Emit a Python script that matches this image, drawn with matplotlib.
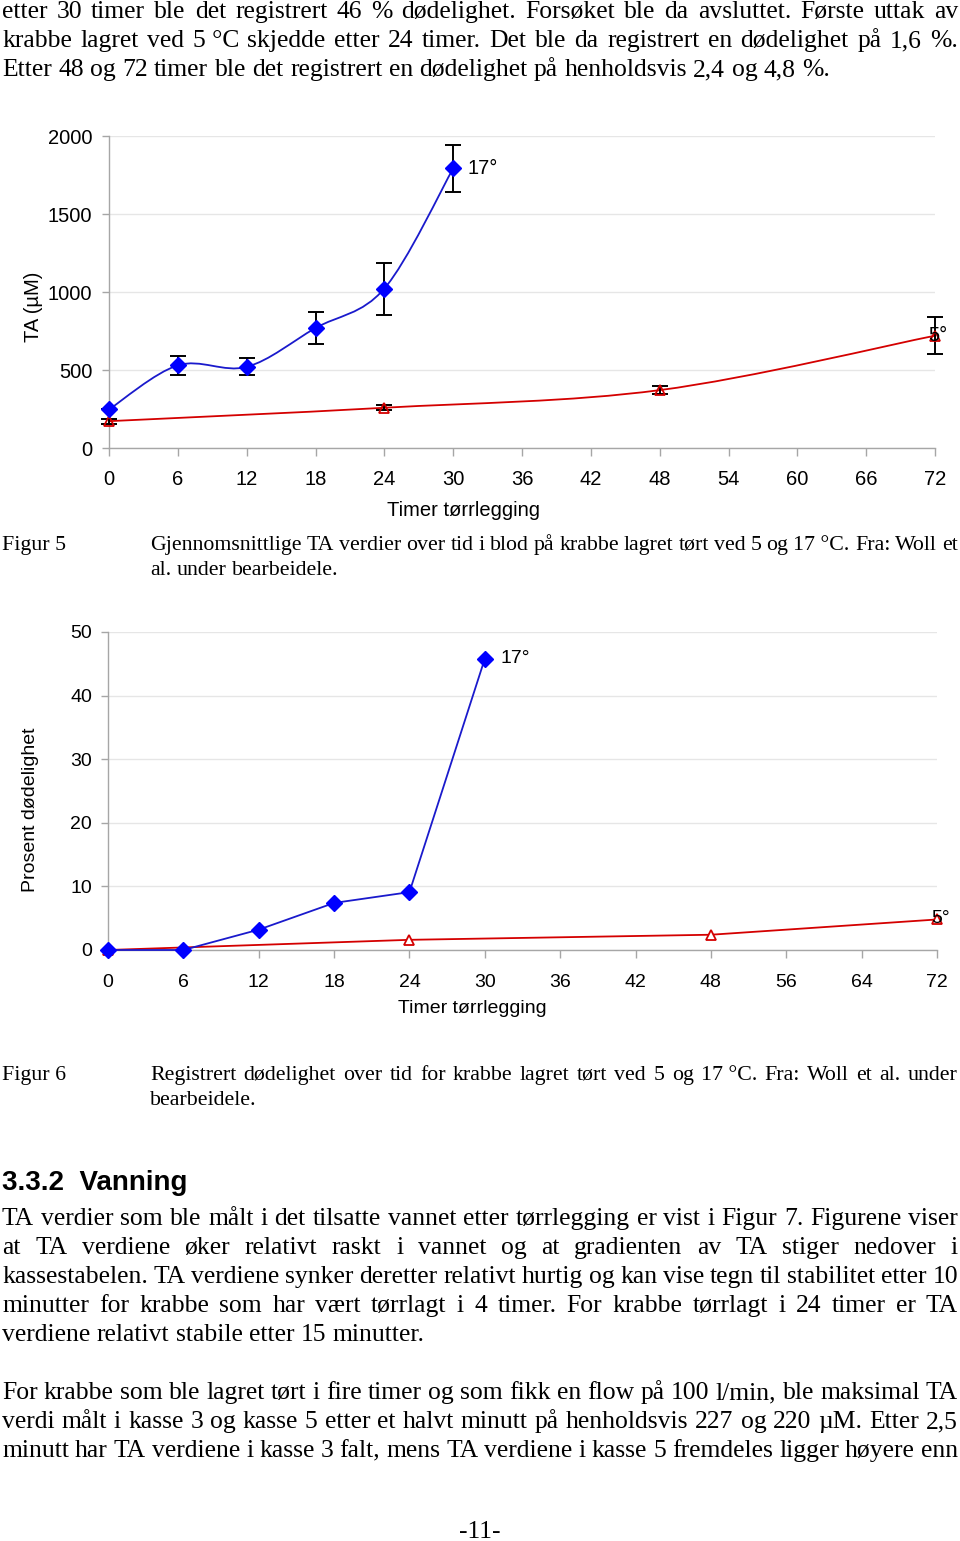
import numpy as np
import matplotlib
matplotlib.use("Agg")
import matplotlib.pyplot as plt
from matplotlib.path import Path
from matplotlib.patches import PathPatch

W, H = 960, 1541

# ---- data: figur 5 (TA i blod) ----
ta_hours_17 = [0, 6, 12, 18, 24, 30]
ta_vals_17 = [247, 530, 520, 769, 1022, 1792]
ta_err_17 = [0, 60, 55, 100, 167, 150]
ta_hours_5 = [0, 24, 48, 72]
ta_vals_5 = [172, 258, 371, 720]
ta_err_5 = [15, 15, 28, 118]
ta_xticks = list(range(0, 73, 6))
ta_yticks = [0, 500, 1000, 1500, 2000]

# ---- data: figur 6 (dødelighet) ----
mort_cats = [0, 6, 12, 18, 24, 30, 36, 42, 48, 56, 64, 72]
mort_hours_17 = [0, 6, 12, 18, 24, 30]
mort_vals_17 = [0, 0, 3.2, 7.4, 9.1, 45.8]
mort_hours_5 = [0, 24, 48, 72]
mort_vals_5 = [0, 1.6, 2.4, 4.8]
mort_yticks = [0, 10, 20, 30, 40, 50]

# ---- tekst ----
top_lines = [
    ("etter 30 timer ble det registrert 46 % dødelighet. Forsøket ble da avsluttet. Første uttak av", True),
    ("krabbe lagret ved 5\u00a0°C skjedde etter 24 timer. Det ble da registrert en dødelighet på 1,6 %.", True),
    ("Etter 48 og 72 timer ble det registrert en dødelighet på henholdsvis 2,4 og 4,8 %.", False),
]
cap5_lines = [
    ("Gjennomsnittlige TA verdier over tid i blod på krabbe lagret tørt ved 5 og 17\u00a0°C. Fra: Woll et", True),
    ("al. under bearbeidele.", False),
]
cap6_lines = [
    ("Registrert dødelighet over tid for krabbe lagret tørt ved 5 og 17\u00a0°C. Fra: Woll et al. under", True),
    ("bearbeidele.", False),
]
para1_lines = [
    ("TA verdier som ble målt i det tilsatte vannet etter tørrlegging er vist i Figur 7. Figurene viser", True),
    ("at TA verdiene øker relativt raskt i vannet og at gradienten av TA stiger nedover i", True),
    ("kassestabelen. TA verdiene synker deretter relativt hurtig og kan vise tegn til stabilitet etter 10", True),
    ("minutter for krabbe som har vært tørrlagt i 4 timer. For krabbe tørrlagt i 24 timer er TA", True),
    ("verdiene relativt stabile etter 15 minutter.", False),
]
para2_lines = [
    ("For krabbe som ble lagret tørt i fire timer og som fikk en flow på 100 l/min, ble maksimal TA", True),
    ("verdi målt i kasse 3 og kasse 5 etter et halvt minutt på henholdsvis 227 og 220 µM. Etter 2,5", True),
    ("minutt har TA verdiene i kasse 3 falt, mens TA verdiene i kasse 5 fremdeles ligger høyere enn", True),
]

SERIF = "Liberation Serif"
SANS = "Liberation Sans"
BLUE_M = "#0000ff"
BLUE_L = "#1a1acc"
RED = "#d40000"
GRID = "#e6e6e6"
AX = "#a6a6a6"

fig = plt.figure(figsize=(W / 100, H / 100), dpi=100)
fig.patch.set_facecolor("white")
renderer = fig.canvas.get_renderer()


def measure(s, size, family=SERIF):
    t = fig.text(0, 0, s, fontsize=size, family=family)
    w = t.get_window_extent(renderer).width
    t.remove()
    return w


def space_w(size):
    return measure("a a", size) - measure("aa", size)


def draw_line(text, x0, x1, y, size, justify):
    words = text.split(" ")
    widths = [measure(w, size) for w in words]
    if justify and len(words) > 1:
        gap = (x1 - x0 - sum(widths)) / (len(words) - 1)
    else:
        gap = space_w(size)
    x = x0
    for w, wd in zip(words, widths):
        fig.text(x / W, 1 - y / H, w, fontsize=size, family=SERIF,
                 ha="left", va="baseline")
        x += wd + gap


def fit_size(blocks, base, factor=0.9):
    # largest size where every justified line still gets a near-normal space
    sp = space_w(base)
    scale = 10.0
    for lines, x0, x1 in blocks:
        for s, j in lines:
            if not j:
                continue
            words = s.split(" ")
            nat = sum(measure(w, base) for w in words) + sp * (len(words) - 1) * factor
            scale = min(scale, (x1 - x0) / nat)
    return base * scale


body = fit_size([(top_lines, 2, 958), (para1_lines, 2, 958), (para2_lines, 2, 958)], 16)
cap = fit_size([(cap5_lines, 150, 958), (cap6_lines, 150, 958)], 14)


def draw_block(lines, x0, x1, y0, size, step):
    for i, (s, j) in enumerate(lines):
        draw_line(s, x0, x1, y0 + i * step, size, j)


draw_block(top_lines, 2, 958, 18, body, 29)
fig.text(2 / W, 1 - 550 / H, "Figur 5", fontsize=cap, family=SERIF, va="baseline")
draw_block(cap5_lines, 150, 958, 550, cap, 25)
fig.text(2 / W, 1 - 1080 / H, "Figur 6", fontsize=cap, family=SERIF, va="baseline")
draw_block(cap6_lines, 150, 958, 1080, cap, 25)
fig.text(2 / W, 1 - 1190 / H, "3.3.2  Vanning", fontsize=20, family=SANS,
         weight="bold", va="baseline")
draw_block(para1_lines, 2, 958, 1225, body, 29)
draw_block(para2_lines, 2, 958, 1399, body, 29)
fig.text(480 / W, 1 - 1538 / H, "-11-", fontsize=body, family=SERIF,
         ha="center", va="baseline")


def smooth_path(xs, ys):
    pts = np.column_stack([xs, ys]).astype(float)
    n = len(pts)
    verts = [pts[0]]
    codes = [Path.MOVETO]
    for i in range(n - 1):
        p0 = pts[max(i - 1, 0)]
        p1 = pts[i]
        p2 = pts[i + 1]
        p3 = pts[min(i + 2, n - 1)]
        verts += [p1 + (p2 - p0) / 6, p2 - (p3 - p1) / 6, p2]
        codes += [Path.CURVE4] * 3
    return Path(verts, codes)


def style_axes(ax, size, pad_x, pad_y):
    for side in ["top", "right"]:
        ax.spines[side].set_visible(False)
    for side in ["left", "bottom"]:
        ax.spines[side].set_color(AX)
        ax.spines[side].set_linewidth(1.0)
    ax.tick_params(axis="x", direction="out", length=6, width=1, color=AX,
                   labelsize=size, pad=pad_x)
    ax.tick_params(axis="y", direction="out", length=5, width=1, color=AX,
                   labelsize=size, pad=pad_y)
    for lab in ax.get_xticklabels() + ax.get_yticklabels():
        lab.set_family(SANS)
    ax.yaxis.grid(True, color=GRID, lw=1)
    ax.set_axisbelow(True)


# ---- Figur 5 ----
ax1 = fig.add_axes([109 / W, 1 - 448 / H, 826 / W, 312 / H])
ax1.set_xlim(0, 72)
ax1.set_ylim(0, 2000)
ax1.set_xticks(ta_xticks)
ax1.set_yticks(ta_yticks)
ax1.add_patch(PathPatch(smooth_path(ta_hours_5, ta_vals_5), fill=False,
                        edgecolor=RED, lw=1.3, zorder=3, clip_on=False))
ax1.add_patch(PathPatch(smooth_path(ta_hours_17, ta_vals_17), fill=False,
                        edgecolor=BLUE_L, lw=1.3, zorder=3, clip_on=False))
ax1.errorbar(ta_hours_17, ta_vals_17, yerr=ta_err_17, fmt="none", ecolor="black",
             elinewidth=1.4, capsize=5.5, capthick=1.4, zorder=4, clip_on=False)
ax1.errorbar(ta_hours_5, ta_vals_5, yerr=ta_err_5, fmt="none", ecolor="black",
             elinewidth=1.4, capsize=5.5, capthick=1.4, zorder=4, clip_on=False)
ax1.plot(ta_hours_5, ta_vals_5, ls="none", marker="^", ms=7, mfc="none",
         mec=RED, mew=1.3, zorder=5, clip_on=False)
ax1.plot(ta_hours_17, ta_vals_17, ls="none", marker="D", ms=8, mfc=BLUE_M,
         mec=BLUE_M, zorder=5, clip_on=False)
style_axes(ax1, 14.5, 9.5, 7)
ax1.set_xlabel("Timer tørrlegging", fontsize=14.5, family=SANS)
ax1.xaxis.set_label_coords(0.4286, -0.199)
ax1.xaxis.label.set_va("center")
ax1.set_ylabel("TA (µM)", fontsize=14.5, family=SANS)
ax1.yaxis.set_label_coords(-0.092, 0.452)
ax1.yaxis.label.set_va("center")
ax1.annotate("17°", xy=(ta_hours_17[-1], ta_vals_17[-1]), xytext=(10, 0),
             textcoords="offset points", ha="left", va="center",
             fontsize=14.5, family=SANS, zorder=6)
ax1.annotate("5°", xy=(ta_hours_5[-1], ta_vals_5[-1]), xytext=(-5, 0),
             textcoords="offset points", ha="left", va="center",
             fontsize=14.5, family=SANS, zorder=6, annotation_clip=False)

# ---- Figur 6 ----
ax2 = fig.add_axes([108 / W, 1 - 950 / H, 829 / W, 318 / H])
pos = list(range(len(mort_cats)))
ax2.set_xlim(0, len(mort_cats) - 1)
ax2.set_ylim(0, 50)
ax2.set_xticks(pos)
ax2.set_xticklabels([str(c) for c in mort_cats])
ax2.set_yticks(mort_yticks)
x17 = [mort_cats.index(h) for h in mort_hours_17]
x5 = [mort_cats.index(h) for h in mort_hours_5]
ax2.plot(x5, mort_vals_5, color=RED, lw=1.3, marker="^", ms=7, mfc="white",
         mec=RED, mew=1.3, zorder=3, clip_on=False)
ax2.plot(x17, mort_vals_17, color=BLUE_L, lw=1.3, marker="D", ms=8,
         mfc=BLUE_M, mec=BLUE_M, zorder=4, clip_on=False)
style_axes(ax2, 14, 11.5, 6.5)
ax2.set_xlabel("Timer tørrlegging", fontsize=14, family=SANS)
ax2.xaxis.set_label_coords(0.439, -0.185)
ax2.xaxis.label.set_va("center")
ax2.set_ylabel("Prosent dødelighet", fontsize=14, family=SANS)
ax2.yaxis.set_label_coords(-0.094, 0.44)
ax2.yaxis.label.set_va("center")
ax2.annotate("17°", xy=(x17[-1], mort_vals_17[-1]), xytext=(11, 0),
             textcoords="offset points", ha="left", va="center",
             fontsize=14, family=SANS, zorder=6)
ax2.annotate("5°", xy=(x5[-1], mort_vals_5[-1]), xytext=(-4, 1),
             textcoords="offset points", ha="left", va="center",
             fontsize=14, family=SANS, zorder=6, annotation_clip=False)

fig.savefig("out.png", dpi=100, facecolor="white")
